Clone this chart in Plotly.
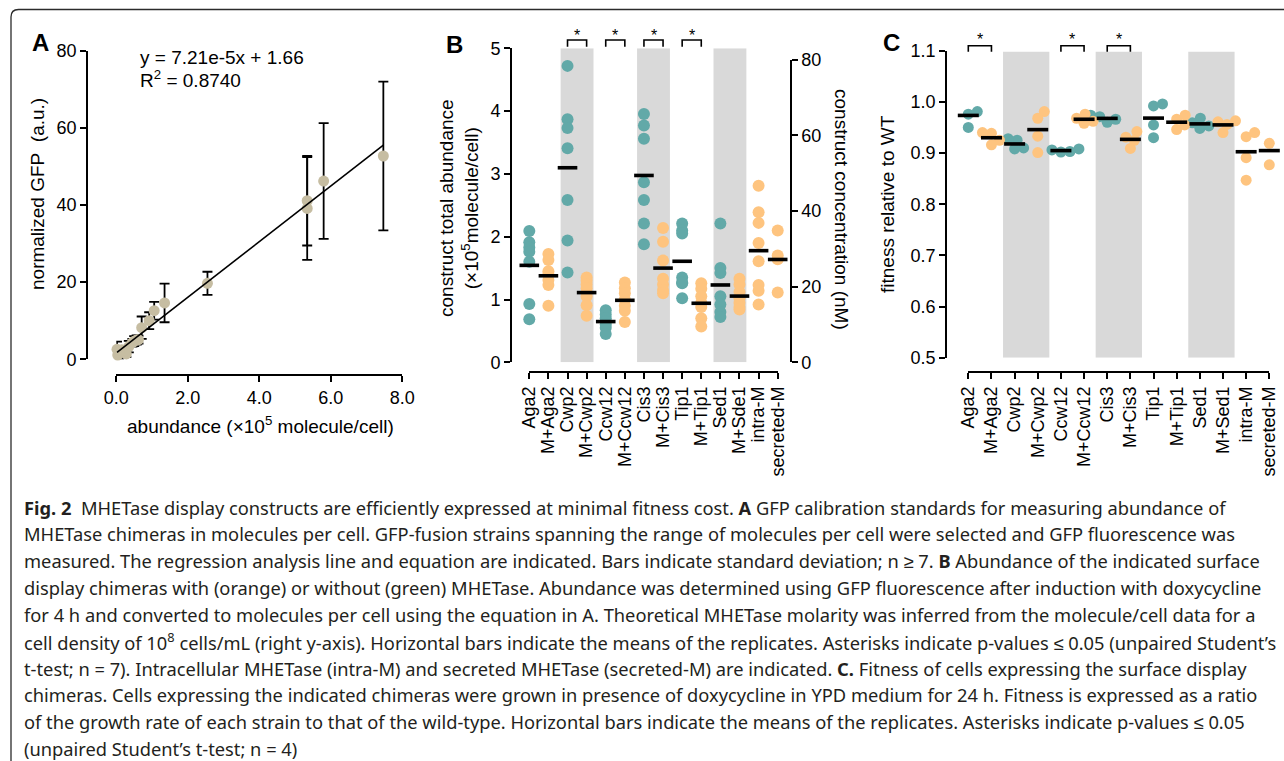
import numpy as np
import plotly.graph_objects as go

W, H = 1284, 761

# ---------------- Panel A data: GFP calibration standards ----------------
gfp_abundance = [7.47, 5.80, 5.34, 5.34, 2.55, 1.35, 1.06, 0.92, 0.71, 0.62,
                 0.57, 0.50, 0.45, 0.35, 0.28, 0.22, 0.15, 0.08, 0.04, 0.02]
gfp_signal = [52.7, 46.2, 41.1, 39.1, 19.7, 14.6, 12.6, 10.0, 8.2, 5.1,
              5.0, 4.7, 4.3, 3.3, 1.4, 2.0, 2.5, 1.6, 1.1, 2.6]
gfp_sd = [19.3, 15.0, 11.6, 13.3, 3.0, 5.0, 2.3, 2.2, 2.9, 1.0,
          1.2, 1.3, 1.0, 1.5, 0.8, 1.0, 1.0, 1.6, 0.8, 2.0]
fit_slope = 7.21e-5 * 1e5      # per 10^5 molecule/cell
fit_intercept = 1.66
fit_r2 = 0.8740

# ---------------- Panel B data: construct abundance (x10^5 molecule/cell) ----------------
categories_B = ["Aga2", "M+Aga2", "Cwp2", "M+Cwp2", "Ccw12", "M+Ccw12", "Cis3",
                "M+Cis3", "Tip1", "M+Tip1", "Sed1", "M+Sde1", "intra-M", "secreted-M"]
abund_Aga2 = [2.09, 1.91, 1.83, 1.76, 1.60, 0.93, 0.685]
abund_M_Aga2 = [1.725, 1.63, 1.45, 1.40, 1.31, 1.23, 0.90]
abund_Cwp2 = [4.72, 3.87, 3.73, 3.41, 2.585, 1.94, 1.43]
abund_M_Cwp2 = [1.35, 1.30, 1.24, 1.18, 1.05, 0.91, 0.74]
abund_Ccw12 = [0.83, 0.76, 0.70, 0.65, 0.60, 0.55, 0.45]
abund_M_Ccw12 = [1.27, 1.18, 1.10, 1.00, 0.90, 0.82, 0.64]
abund_Cis3 = [3.955, 3.77, 3.56, 2.866, 2.585, 2.21, 1.88]
abund_M_Cis3 = [2.14, 1.92, 1.62, 1.33, 1.24, 1.15, 1.10]
abund_Tip1 = [2.21, 2.10, 2.05, 1.35, 1.27, 1.26, 1.02]
abund_M_Tip1 = [1.26, 1.17, 1.05, 0.95, 0.88, 0.70, 0.57]
abund_Sed1 = [2.21, 1.50, 1.42, 1.05, 0.92, 0.80, 0.72]
abund_M_Sde1 = [1.33, 1.24, 1.12, 1.02, 0.95, 0.88, 0.84]
abund_intraM = [2.81, 2.39, 2.22, 1.90, 1.61, 1.23, 1.14, 0.92]
abund_secretedM = [2.10, 1.70, 1.64, 1.11]
with_mhetase_B = [False, True, False, True, False, True, False, True,
                  False, True, False, True, True, True]
signif_pairs_B = [(2, 3), (4, 5), (6, 7), (8, 9)]
shaded_pairs_B = [(2, 3), (6, 7), (10, 11)]
nM_per_unit = 1e5 * 1e8 * 1e3 / 6.022e23 * 1e9   # 10^5 molecules/cell at 10^8 cells/mL -> nM

# ---------------- Panel C data: fitness relative to WT ----------------
categories_C = ["Aga2", "M+Aga2", "Cwp2", "M+Cwp2", "Ccw12", "M+Ccw12", "Cis3",
                "M+Cis3", "Tip1", "M+Tip1", "Sed1", "M+Sed1", "intra-M", "secreted-M"]
fit_Aga2 = [0.976, 0.981, 0.987, 0.950]
fit_M_Aga2 = [0.9385, 0.940, 0.925, 0.916]
fit_Cwp2 = [0.910, 0.908, 0.925, 0.928]
fit_M_Cwp2 = [0.981, 0.968, 0.933, 0.901]
fit_Ccw12 = [0.906, 0.902, 0.908, 0.903]
fit_M_Ccw12 = [0.962, 0.976, 0.968, 0.958]
fit_Cis3 = [0.960, 0.974, 0.966, 0.971]
fit_M_Cis3 = [0.909, 0.942, 0.931, 0.925]
fit_Tip1 = [0.996, 0.992, 0.955, 0.930]
fit_M_Tip1 = [0.966, 0.974, 0.946, 0.955]
fit_Sed1 = [0.948, 0.968, 0.959, 0.953]
fit_M_Sed1 = [0.940, 0.963, 0.961, 0.956]
fit_intraM = [0.932, 0.940, 0.891, 0.847]
fit_secretedM = [0.929, 0.919, 0.894, 0.877]
with_mhetase_C = with_mhetase_B
signif_pairs_C = [(0, 1), (4, 5), (6, 7)]
shaded_pairs_C = [(2, 3), (6, 7), (10, 11)]

groups_B = [abund_Aga2, abund_M_Aga2, abund_Cwp2, abund_M_Cwp2, abund_Ccw12, abund_M_Ccw12,
            abund_Cis3, abund_M_Cis3, abund_Tip1, abund_M_Tip1, abund_Sed1, abund_M_Sde1,
            abund_intraM, abund_secretedM]
groups_C = [fit_Aga2, fit_M_Aga2, fit_Cwp2, fit_M_Cwp2, fit_Ccw12, fit_M_Ccw12,
            fit_Cis3, fit_M_Cis3, fit_Tip1, fit_M_Tip1, fit_Sed1, fit_M_Sed1,
            fit_intraM, fit_secretedM]

caption_lines = [
    "<b>Fig. 2</b>  MHETase display constructs are efficiently expressed at minimal fitness cost. <b>A</b> GFP calibration standards for measuring abundance of",
    "MHETase chimeras in molecules per cell. GFP-fusion strains spanning the range of molecules per cell were selected and GFP fluorescence was",
    "measured. The regression analysis line and equation are indicated. Bars indicate standard deviation; n ≥ 7. <b>B</b> Abundance of the indicated surface",
    "display chimeras with (orange) or without (green) MHETase. Abundance was determined using GFP fluorescence after induction with doxycycline",
    "for 4 h and converted to molecules per cell using the equation in A. Theoretical MHETase molarity was inferred from the molecule/cell data for a",
    "cell density of 10<sup>8</sup> cells/mL (right y-axis). Horizontal bars indicate the means of the replicates. Asterisks indicate p-values ≤ 0.05 (unpaired Student’s",
    "t-test; n = 7). Intracellular MHETase (intra-M) and secreted MHETase (secreted-M) are indicated. <b>C.</b> Fitness of cells expressing the surface display",
    "chimeras. Cells expressing the indicated chimeras were grown in presence of doxycycline in YPD medium for 24 h. Fitness is expressed as a ratio",
    "of the growth rate of each strain to that of the wild-type. Horizontal bars indicate the means of the replicates. Asterisks indicate p-values ≤ 0.05",
    "(unpaired Student’s t-test; n = 4)",
]

# ---------------- styling / layout constants ----------------
TEAL = "#62A9A8"
ORANGE = "#FEC47F"
BEIGE = "#C6BDA2"
SHADE = "#D9D9D9"
FONT = "Liberation Sans, Arial, sans-serif"
CAP_FONT = "Noto Sans, sans-serif"


def fx(px):
    return px / W


def fy(py):
    return 1 - py / H


domA_x = [fx(116.3), fx(402.3)]
domA_y = [fy(359.3), fy(50.7)]
domB_x = [fx(529.3), fx(777.7)]
domB_y = [fy(362.3), fy(48.3)]
domB_y2 = [fy(362.3), fy(362.3 - (362.3 - 48.3) * 80 / (5 * nM_per_unit))]
domC_x = [fx(968.3), fx(1269.3)]
domC_y = [fy(357.7), fy(50.7)]
ncat = len(categories_B)


def cat_paper(i, dom):
    return dom[0] + i / (ncat - 1) * (dom[1] - dom[0])


def swarm(values, px_per_unit, dmin):
    vals = np.asarray(values, dtype=float) * px_per_unit
    order = np.argsort(vals)
    placed, offs = [], np.zeros(len(vals))
    for i in order:
        found = None
        for step in range(200):
            for sgn in (1, -1):
                dx = sgn * step * 0.5
                if all((dx - a) ** 2 + (vals[i] - b) ** 2 >= dmin ** 2 for a, b in placed):
                    found = dx
                    break
            if found is not None:
                break
        placed.append((found, vals[i]))
        offs[i] = found
    return offs


fig = go.Figure()

# ---------- Panel A ----------
fig.add_trace(go.Scatter(
    x=gfp_abundance, y=gfp_signal, mode="markers", xaxis="x", yaxis="y",
    marker=dict(size=11, color=BEIGE, line=dict(width=0)),
    error_y=dict(type="data", array=gfp_sd, visible=True, color="black", thickness=1.8, width=5),
    cliponaxis=False, showlegend=False, hoverinfo="skip"))
xfit = np.array([min(gfp_abundance), max(gfp_abundance)])
fig.add_trace(go.Scatter(
    x=xfit, y=fit_slope * xfit + fit_intercept, mode="lines", xaxis="x", yaxis="y",
    line=dict(color="black", width=1.6), showlegend=False, hoverinfo="skip"))

# ---------- Panel B ----------
for flag, col in ((False, TEAL), (True, ORANGE)):
    xs, ys = [], []
    for i, g in enumerate(groups_B):
        if with_mhetase_B[i] == flag:
            xs += [i] * len(g)
            ys += list(g)
    fig.add_trace(go.Scatter(
        x=xs, y=ys, mode="markers", xaxis="x2", yaxis="y2",
        marker=dict(size=12, color=col, line=dict(width=0)),
        cliponaxis=False, showlegend=False, hoverinfo="skip"))
fig.add_trace(go.Scatter(
    x=list(range(ncat)), y=[float(np.mean(g)) for g in groups_B], mode="markers",
    xaxis="x2", yaxis="y2",
    marker=dict(symbol="line-ew", size=14, line=dict(width=3.6, color="black")),
    cliponaxis=False, showlegend=False, hoverinfo="skip"))
# right axis host (concentration in nM)
fig.add_trace(go.Scatter(x=[0], y=[0], mode="markers", xaxis="x2", yaxis="y4",
                         marker=dict(opacity=0), showlegend=False, hoverinfo="skip"))

# ---------- Panel C ----------
px_per_unit_C = (domC_y[1] - domC_y[0]) * H / (1.1 - 0.5)
px_per_cat_C = (domC_x[1] - domC_x[0]) * W / (ncat - 1)
for flag, col in ((False, TEAL), (True, ORANGE)):
    xs, ys = [], []
    for i, g in enumerate(groups_C):
        if with_mhetase_C[i] == flag:
            offs = swarm(g, px_per_unit_C, 9.0) / px_per_cat_C
            xs += list(i + offs)
            ys += list(g)
    fig.add_trace(go.Scatter(
        x=xs, y=ys, mode="markers", xaxis="x3", yaxis="y3",
        marker=dict(size=11, color=col, line=dict(width=0)),
        cliponaxis=False, showlegend=False, hoverinfo="skip"))
fig.add_trace(go.Scatter(
    x=list(range(ncat)), y=[float(np.mean(g)) for g in groups_C], mode="markers",
    xaxis="x3", yaxis="y3",
    marker=dict(symbol="line-ew", size=15, line=dict(width=3.6, color="black")),
    cliponaxis=False, showlegend=False, hoverinfo="skip"))

# ---------- axes ----------
base = dict(showline=True, linecolor="black", linewidth=1.8, ticks="outside", ticklen=6,
            tickwidth=1.8, tickcolor="black", showgrid=False, zeroline=False,
            tickfont=dict(family=FONT, size=18, color="black"), automargin=False,
            fixedrange=True)

layout_axes = dict(
    xaxis=dict(base, domain=domA_x, range=[0, 8], anchor="free", position=fy(375),
               tickvals=[0, 2, 4, 6, 8], tickformat=".1f"),
    yaxis=dict(base, domain=domA_y, range=[0, 80], anchor="free", position=fx(87),
               tickvals=[0, 20, 40, 60, 80]),
    xaxis2=dict(base, domain=domB_x, range=[0, ncat - 1], anchor="free", position=fy(372.3),
                tickvals=list(range(ncat)), ticktext=categories_B, tickangle=-90),
    yaxis2=dict(base, domain=domB_y, range=[0, 5], anchor="free", position=fx(511),
                tickvals=[0, 1, 2, 3, 4, 5]),
    yaxis4=dict(base, domain=domB_y2, range=[0, 80], anchor="free", position=fx(790.7),
                side="right", tickvals=[0, 20, 40, 60, 80]),
    xaxis3=dict(base, domain=domC_x, range=[0, ncat - 1], anchor="free", position=fy(372.3),
                tickvals=list(range(ncat)), ticktext=categories_C, tickangle=-90),
    yaxis3=dict(base, domain=domC_y, range=[0.5, 1.1], anchor="free", position=fx(946),
                tickvals=[0.5, 0.6, 0.7, 0.8, 0.9, 1.0, 1.1], tickformat=".1f"),
)

shapes = []
for a, b in shaded_pairs_B:
    c = (a + b) / 2
    shapes.append(dict(type="rect", xref="x2", yref="y2", x0=c - 0.86, x1=c + 0.86, y0=0, y1=5,
                       fillcolor=SHADE, line=dict(width=0), layer="below"))
for a, b in shaded_pairs_C:
    c = (a + b) / 2
    shapes.append(dict(type="rect", xref="x3", yref="y3", x0=c - 1.0, x1=c + 1.0, y0=0.5, y1=1.098,
                       fillcolor=SHADE, line=dict(width=0), layer="below"))

annotations = []


def bracket(x0, x1, ytop, yleg, ystar):
    shapes.append(dict(type="path", xref="paper", yref="paper",
                       path=f"M{x0},{yleg} L{x0},{ytop} L{x1},{ytop} L{x1},{yleg}",
                       line=dict(color="black", width=1.6)))
    annotations.append(dict(xref="paper", yref="paper", x=(x0 + x1) / 2, y=ystar, text="*",
                            showarrow=False, xanchor="center", yanchor="middle",
                            font=dict(family=FONT, size=16, color="black")))


for a, b in signif_pairs_B:
    bracket(cat_paper(a, domB_x), cat_paper(b, domB_x), fy(40), fy(46.7), fy(35.5))
for a, b in signif_pairs_C:
    bracket(cat_paper(a, domC_x), cat_paper(b, domC_x), fy(45.7), fy(51.7), fy(39))

# frame of the figure box
shapes.append(dict(type="path", xref="paper", yref="paper",
                   path=f"M{fx(11)},{fy(761)} L{fx(11)},{fy(17)} Q{fx(11)},{fy(9.5)} {fx(18.5)},{fy(9.5)} L{fx(1284)},{fy(9.5)}",
                   line=dict(color="#2b2b2b", width=1.3)))


def text(px, py, s, size=19, angle=0, xanchor="center", family=FONT, color="black"):
    annotations.append(dict(xref="paper", yref="paper", x=fx(px), y=fy(py), text=s,
                            showarrow=False, xanchor=xanchor, yanchor="middle", textangle=angle,
                            font=dict(family=family, size=size, color=color)))


# panel letters
text(40, 43, "<b>A</b>", size=24)
text(454, 44, "<b>B</b>", size=24)
text(891, 42, "<b>C</b>", size=24)

# panel A texts
text(138, 57, f"y = {fit_slope / 1e5:.2e}".replace("e-05", "e-5") + f"x + {fit_intercept:.2f}",
     size=19, xanchor="left")
text(138, 79, f"R<sup>2</sup> = {fit_r2:.4f}", size=19, xanchor="left")
text(260, 425, "abundance (×10<sup>5</sup> molecule/cell)", size=19)
text(37, 194, "normalized GFP\u00a0 (a.u.)", size=19, angle=-90)

# panel B titles
text(459, 208, "construct total abundance<br>(×10<sup>5</sup>molecule/cell)", size=19, angle=-90)
text(842, 209, "construct concentration (nM)", size=19, angle=90)

# panel C title
text(887, 204, "fitness relative to WT", size=19, angle=-90)

# caption
for k, line in enumerate(caption_lines):
    text(22, 507 + k * 26.85, line, size=18.3, xanchor="left", family=CAP_FONT, color="#231f20")

fig.update_layout(
    width=W, height=H, margin=dict(l=0, r=0, t=0, b=0),
    template="none", paper_bgcolor="white", plot_bgcolor="rgba(0,0,0,0)",
    showlegend=False, shapes=shapes, annotations=annotations, **layout_axes)

fig.write_html("out.html", config={"displayModeBar": False},
               post_script="document.body.style.margin='0';document.body.style.overflow='hidden';")
